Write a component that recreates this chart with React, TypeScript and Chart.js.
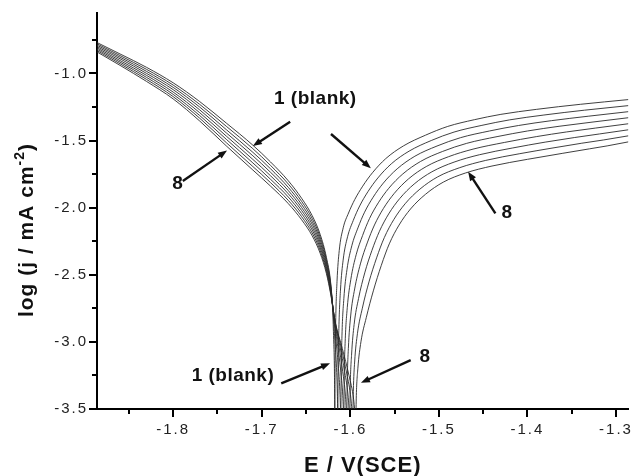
import { useEffect, useRef } from "react";
import { Chart, registerables } from "chart.js";

Chart.register(...registerables);

// Axis ranges and tick values
const E_MIN = -1.886;
const E_MAX = -1.286;
const LOGJ_MIN = -3.5;
const LOGJ_MAX = -0.55;
const E_TICKS = [-1.8, -1.7, -1.6, -1.5, -1.4, -1.3];
const E_MINOR_TICKS = [-1.85, -1.75, -1.65, -1.55, -1.45, -1.35];
const LOGJ_TICKS = [-3.5, -3.0, -2.5, -2.0, -1.5, -1.0];
const LOGJ_MINOR_TICKS = [-3.25, -2.75, -2.25, -1.75, -1.25, -0.75];

// Cathodic branches [E (V vs SCE), log j], curve 1 = blank ... curve 8
const CATHODIC_1 = [[-1.886,-0.77],[-1.86,-0.855],[-1.83,-0.955],[-1.80,-1.07],[-1.77,-1.21],[-1.74,-1.37],[-1.71,-1.535],[-1.69,-1.66],[-1.67,-1.8],[-1.655,-1.93],[-1.643,-2.06],[-1.634,-2.2],[-1.627,-2.37],[-1.622,-2.57],[-1.6198,-2.78],[-1.6188,-2.98],[-1.618,-3.18],[-1.6177,-3.38],[-1.6175,-3.6]];
const CATHODIC_2 = [[-1.886,-0.78],[-1.86,-0.867],[-1.83,-0.97],[-1.80,-1.087],[-1.77,-1.231],[-1.74,-1.394],[-1.71,-1.561],[-1.69,-1.686],[-1.67,-1.824],[-1.655,-1.953],[-1.643,-2.081],[-1.634,-2.22],[-1.627,-2.387],[-1.622,-2.581],[-1.6194,-2.79],[-1.6174,-2.99],[-1.6156,-3.19],[-1.6146,-3.387],[-1.6141,-3.6]];
const CATHODIC_3 = [[-1.886,-0.79],[-1.86,-0.879],[-1.83,-0.985],[-1.80,-1.104],[-1.77,-1.251],[-1.74,-1.419],[-1.71,-1.588],[-1.69,-1.711],[-1.67,-1.849],[-1.655,-1.976],[-1.643,-2.103],[-1.634,-2.24],[-1.627,-2.404],[-1.622,-2.593],[-1.619,-2.8],[-1.616,-3.0],[-1.6133,-3.2],[-1.6116,-3.394],[-1.6107,-3.6]];
const CATHODIC_4 = [[-1.886,-0.8],[-1.86,-0.891],[-1.83,-1.0],[-1.80,-1.121],[-1.77,-1.272],[-1.74,-1.443],[-1.71,-1.614],[-1.69,-1.737],[-1.67,-1.873],[-1.655,-1.999],[-1.643,-2.124],[-1.634,-2.26],[-1.627,-2.421],[-1.622,-2.604],[-1.6186,-2.81],[-1.6146,-3.01],[-1.6109,-3.21],[-1.6085,-3.401],[-1.6073,-3.6]];
const CATHODIC_5 = [[-1.886,-0.81],[-1.86,-0.904],[-1.83,-1.015],[-1.80,-1.139],[-1.77,-1.293],[-1.74,-1.467],[-1.71,-1.641],[-1.69,-1.763],[-1.67,-1.897],[-1.655,-2.021],[-1.643,-2.146],[-1.634,-2.28],[-1.627,-2.439],[-1.622,-2.616],[-1.6182,-2.82],[-1.6132,-3.02],[-1.6086,-3.22],[-1.6054,-3.409],[-1.604,-3.6]];
const CATHODIC_6 = [[-1.886,-0.82],[-1.86,-0.916],[-1.83,-1.03],[-1.80,-1.156],[-1.77,-1.314],[-1.74,-1.491],[-1.71,-1.667],[-1.69,-1.789],[-1.67,-1.921],[-1.655,-2.044],[-1.643,-2.167],[-1.634,-2.3],[-1.627,-2.456],[-1.622,-2.627],[-1.6178,-2.83],[-1.6118,-3.03],[-1.6062,-3.23],[-1.6023,-3.416],[-1.6006,-3.6]];
const CATHODIC_7 = [[-1.886,-0.83],[-1.86,-0.928],[-1.83,-1.045],[-1.80,-1.173],[-1.77,-1.334],[-1.74,-1.516],[-1.71,-1.694],[-1.69,-1.814],[-1.67,-1.946],[-1.655,-2.067],[-1.643,-2.189],[-1.634,-2.32],[-1.627,-2.473],[-1.622,-2.639],[-1.6174,-2.84],[-1.6104,-3.04],[-1.6039,-3.24],[-1.5993,-3.423],[-1.5972,-3.6]];
const CATHODIC_8 = [[-1.886,-0.84],[-1.86,-0.94],[-1.83,-1.06],[-1.80,-1.19],[-1.77,-1.355],[-1.74,-1.54],[-1.71,-1.72],[-1.69,-1.84],[-1.67,-1.97],[-1.655,-2.09],[-1.643,-2.21],[-1.634,-2.34],[-1.627,-2.49],[-1.622,-2.65],[-1.617,-2.85],[-1.609,-3.05],[-1.6015,-3.25],[-1.5962,-3.43],[-1.5938,-3.6]];

// Anodic branches [E (V vs SCE), log j], curve 1 = blank ... curve 8
const ANODIC_1 = [[-1.6175,-3.6],[-1.6172,-3.2],[-1.6165,-2.85],[-1.615,-2.55],[-1.6125,-2.32],[-1.608,-2.15],[-1.602,-2.04],[-1.595,-1.94],[-1.586,-1.84],[-1.575,-1.74],[-1.56,-1.635],[-1.54,-1.54],[-1.515,-1.46],[-1.49,-1.395],[-1.46,-1.345],[-1.43,-1.305],[-1.39,-1.268],[-1.34,-1.23],[-1.286,-1.195]];
const ANODIC_2 = [[-1.6141,-3.6],[-1.6138,-3.229],[-1.6129,-2.9],[-1.6111,-2.614],[-1.6081,-2.391],[-1.6031,-2.217],[-1.5967,-2.096],[-1.5894,-1.987],[-1.5801,-1.881],[-1.5689,-1.779],[-1.5536,-1.673],[-1.5336,-1.579],[-1.5086,-1.5],[-1.4829,-1.437],[-1.4514,-1.387],[-1.42,-1.346],[-1.3814,-1.31],[-1.3357,-1.274],[-1.286,-1.24]];
const ANODIC_3 = [[-1.6107,-3.6],[-1.6103,-3.257],[-1.6094,-2.95],[-1.6073,-2.679],[-1.6038,-2.463],[-1.5983,-2.284],[-1.5914,-2.151],[-1.5839,-2.034],[-1.5743,-1.923],[-1.5627,-1.817],[-1.5471,-1.711],[-1.5271,-1.617],[-1.5021,-1.541],[-1.4757,-1.479],[-1.4429,-1.429],[-1.41,-1.388],[-1.3729,-1.352],[-1.3314,-1.319],[-1.286,-1.285]];
const ANODIC_4 = [[-1.6073,-3.6],[-1.6069,-3.286],[-1.6058,-3.0],[-1.6034,-2.743],[-1.5994,-2.534],[-1.5934,-2.351],[-1.5861,-2.207],[-1.5783,-2.081],[-1.5684,-1.964],[-1.5566,-1.856],[-1.5407,-1.749],[-1.5207,-1.656],[-1.4957,-1.581],[-1.4686,-1.521],[-1.4343,-1.471],[-1.40,-1.429],[-1.3643,-1.394],[-1.3271,-1.363],[-1.286,-1.33]];
const ANODIC_5 = [[-1.604,-3.6],[-1.6035,-3.314],[-1.6022,-3.05],[-1.5996,-2.807],[-1.5951,-2.606],[-1.5886,-2.419],[-1.5809,-2.263],[-1.5727,-2.129],[-1.5626,-2.006],[-1.5504,-1.894],[-1.5343,-1.786],[-1.5143,-1.694],[-1.4893,-1.621],[-1.4614,-1.564],[-1.4257,-1.514],[-1.39,-1.471],[-1.3557,-1.436],[-1.3229,-1.407],[-1.286,-1.375]];
const ANODIC_6 = [[-1.6006,-3.6],[-1.6001,-3.343],[-1.5986,-3.1],[-1.5957,-2.871],[-1.5907,-2.677],[-1.5837,-2.486],[-1.5756,-2.319],[-1.5671,-2.176],[-1.5567,-2.047],[-1.5443,-1.933],[-1.5279,-1.824],[-1.5079,-1.733],[-1.4829,-1.661],[-1.4543,-1.606],[-1.4171,-1.556],[-1.38,-1.512],[-1.3471,-1.478],[-1.3186,-1.451],[-1.286,-1.42]];
const ANODIC_7 = [[-1.5972,-3.6],[-1.5966,-3.371],[-1.5951,-3.15],[-1.5919,-2.936],[-1.5864,-2.749],[-1.5789,-2.553],[-1.5703,-2.374],[-1.5616,-2.223],[-1.5509,-2.089],[-1.5381,-1.971],[-1.5214,-1.862],[-1.5014,-1.771],[-1.4764,-1.702],[-1.4471,-1.648],[-1.4086,-1.598],[-1.37,-1.554],[-1.3386,-1.52],[-1.3143,-1.496],[-1.286,-1.465]];
const ANODIC_8 = [[-1.5938,-3.6],[-1.5932,-3.4],[-1.5915,-3.2],[-1.588,-3.0],[-1.582,-2.82],[-1.574,-2.62],[-1.565,-2.43],[-1.556,-2.27],[-1.545,-2.13],[-1.532,-2.01],[-1.515,-1.9],[-1.495,-1.81],[-1.47,-1.742],[-1.44,-1.69],[-1.40,-1.64],[-1.36,-1.595],[-1.33,-1.562],[-1.31,-1.54],[-1.286,-1.51]];

const CATHODIC = [CATHODIC_1, CATHODIC_2, CATHODIC_3, CATHODIC_4, CATHODIC_5, CATHODIC_6, CATHODIC_7, CATHODIC_8];
const ANODIC = [ANODIC_1, ANODIC_2, ANODIC_3, ANODIC_4, ANODIC_5, ANODIC_6, ANODIC_7, ANODIC_8];

// Curve labels and their pointer arrows, in data coordinates [E, log j]
const LABEL_TEXTS = ["1 (blank)", "8", "8", "1 (blank)", "8"];
const LABEL_ANCHORS = [[-1.6395, -1.187], [-1.7947, -1.824], [-1.4231, -2.0365], [-1.7325, -3.251], [-1.5157, -3.113]];
const ARROW_TAILS = [[-1.6679, -1.36], [-1.6218, -1.4516], [-1.7891, -1.8018], [-1.4362, -2.0425], [-1.678, -3.309], [-1.5318, -3.1357]];
const ARROW_TIPS = [[-1.71, -1.541], [-1.5768, -1.7072], [-1.7392, -1.575], [-1.467, -1.7325], [-1.6229, -3.16], [-1.588, -3.305]];

const X_TITLE = "E / V(SCE)";
const Y_TITLE_MAIN = "log (j / mA cm";
const Y_TITLE_SUP = "-2";
const Y_TITLE_END = ")";

const FAMILY = "'Liberation Sans', Arial, Helvetica, sans-serif";
const LINE_COLOR = "#2a2a2a";
const INK = "#111";

const decorPlugin = {
  id: "decor",
  beforeDraw(chart: any) {
    chart.ctx.letterSpacing = "2px";
  },
  afterDraw(chart: any) {
    const { ctx, chartArea: a, scales } = chart;
    const xs = scales.x;
    const ys = scales.y;
    ctx.save();
    ctx.letterSpacing = "0px";

    // minor tick marks
    ctx.strokeStyle = "#000";
    ctx.lineWidth = 2;
    ctx.beginPath();
    for (const v of E_MINOR_TICKS) {
      const px = Math.round(xs.getPixelForValue(v));
      ctx.moveTo(px, a.bottom);
      ctx.lineTo(px, a.bottom + 5);
    }
    for (const v of LOGJ_MINOR_TICKS) {
      const py = Math.round(ys.getPixelForValue(v));
      ctx.moveTo(a.left, py);
      ctx.lineTo(a.left - 5, py);
    }
    ctx.stroke();

    // axis titles
    ctx.fillStyle = INK;
    ctx.letterSpacing = "1px";
    ctx.font = `bold 22px ${FAMILY}`;
    ctx.textAlign = "center";
    ctx.textBaseline = "alphabetic";
    ctx.fillText(X_TITLE, (a.left + a.right) / 2, 472);

    const mainFont = `bold 21px ${FAMILY}`;
    const supFont = `bold 14px ${FAMILY}`;
    ctx.save();
    ctx.translate(33, 230);
    ctx.rotate(-Math.PI / 2);
    ctx.textAlign = "left";
    ctx.font = mainFont;
    const w1 = ctx.measureText(Y_TITLE_MAIN).width;
    const w3 = ctx.measureText(Y_TITLE_END).width;
    ctx.font = supFont;
    const w2 = ctx.measureText(Y_TITLE_SUP).width;
    let cx = -(w1 + w2 + w3) / 2;
    ctx.font = mainFont;
    ctx.fillText(Y_TITLE_MAIN, cx, 0);
    cx += w1;
    ctx.font = supFont;
    ctx.fillText(Y_TITLE_SUP, cx, -9);
    cx += w2;
    ctx.font = mainFont;
    ctx.fillText(Y_TITLE_END, cx, 0);
    ctx.restore();

    // curve labels
    ctx.letterSpacing = "0.5px";
    ctx.font = `bold 19px ${FAMILY}`;
    ctx.textAlign = "center";
    ctx.textBaseline = "middle";
    LABEL_TEXTS.forEach((t, i) => {
      const [e, j] = LABEL_ANCHORS[i];
      ctx.fillText(t, xs.getPixelForValue(e), ys.getPixelForValue(j));
    });

    // arrows
    ctx.strokeStyle = INK;
    ctx.lineWidth = 2.4;
    ARROW_TAILS.forEach((tail, i) => {
      const tip = ARROW_TIPS[i];
      const x0 = xs.getPixelForValue(tail[0]);
      const y0 = ys.getPixelForValue(tail[1]);
      const x1 = xs.getPixelForValue(tip[0]);
      const y1 = ys.getPixelForValue(tip[1]);
      const len = Math.hypot(x1 - x0, y1 - y0);
      const ux = (x1 - x0) / len;
      const uy = (y1 - y0) / len;
      const head = 9;
      const half = 3.5;
      ctx.beginPath();
      ctx.moveTo(x0, y0);
      ctx.lineTo(x1 - ux * (head - 1), y1 - uy * (head - 1));
      ctx.stroke();
      ctx.beginPath();
      ctx.moveTo(x1, y1);
      ctx.lineTo(x1 - ux * head - uy * half, y1 - uy * head + ux * half);
      ctx.lineTo(x1 - ux * head + uy * half, y1 - uy * head - ux * half);
      ctx.closePath();
      ctx.fill();
    });

    ctx.restore();
  },
};

export default function App() {
  const canvasRef = useRef<HTMLCanvasElement | null>(null);

  useEffect(() => {
    const canvas = canvasRef.current;
    if (!canvas) return;

    const toPoints = (arr: number[][]) => arr.map(([x, y]) => ({ x, y }));
    const branch = (label: string, arr: number[][]) => ({
      label,
      data: toPoints(arr),
      borderColor: LINE_COLOR,
      borderWidth: 0.9,
      pointRadius: 0,
      cubicInterpolationMode: "monotone",
      fill: false,
    });
    const datasets: any[] = [
      ...CATHODIC.map((c, i) => branch(`cathodic ${i + 1}`, c)),
      ...ANODIC.map((c, i) => branch(`anodic ${i + 1}`, c)),
    ];

    const tickFont = { family: FAMILY, size: 15 };

    const chart = new Chart(canvas, {
      type: "line",
      data: { datasets },
      options: {
        animation: false,
        responsive: false,
        events: [],
        layout: { padding: { top: 13, right: 3, left: 0, bottom: 0 } },
        plugins: {
          legend: { display: false },
          tooltip: { enabled: false },
        },
        scales: {
          x: {
            type: "linear",
            min: E_MIN,
            max: E_MAX,
            afterBuildTicks: (s: any) => {
              s.ticks = E_TICKS.map((value) => ({ value }));
            },
            afterFit: (s: any) => {
              s.height = 67;
            },
            ticks: {
              callback: (v: any) => Number(v).toFixed(1),
              color: "#222",
              font: tickFont,
              padding: 4,
              maxRotation: 0,
              autoSkip: false,
            },
            grid: {
              drawOnChartArea: false,
              drawTicks: true,
              tickLength: 8,
              color: "#000",
              lineWidth: 2,
            },
            border: { display: true, color: "#000", width: 2 },
          },
          y: {
            type: "linear",
            min: LOGJ_MIN,
            max: LOGJ_MAX,
            afterBuildTicks: (s: any) => {
              s.ticks = LOGJ_TICKS.map((value) => ({ value }));
            },
            afterFit: (s: any) => {
              s.width = 97;
            },
            ticks: {
              callback: (v: any) => Number(v).toFixed(1),
              color: "#222",
              font: tickFont,
              padding: 1,
              autoSkip: false,
            },
            grid: {
              drawOnChartArea: false,
              drawTicks: true,
              tickLength: 8,
              color: "#000",
              lineWidth: 2,
            },
            border: { display: true, color: "#000", width: 2 },
          },
        },
      },
      plugins: [decorPlugin],
    } as any);

    return () => chart.destroy();
  }, []);

  return (
    <div style={{ position: "absolute", left: 0, top: 0, width: 633, height: 476, background: "#fff" }}>
      <canvas ref={canvasRef} width={633} height={476} style={{ display: "block" }} />
    </div>
  );
}
